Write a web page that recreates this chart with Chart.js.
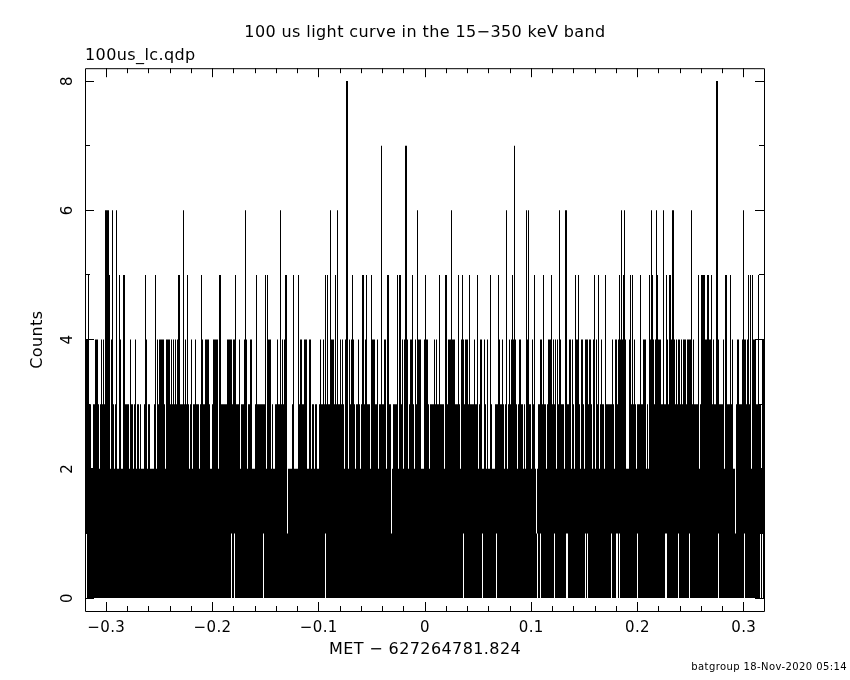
<!DOCTYPE html>
<html lang="en">
<head>
<meta charset="UTF-8">
<title>100 us light curve</title>
<script src="https://cdn.jsdelivr.net/npm/chart.js@4"></script>
<style>
    body { margin: 0; background: #fff; }
    canvas { display: block; }
</style>
</head>
<body>
<canvas id="myChart" width="850" height="680"></canvas>
<script>
// light curve rebinned to the 680 columns of the plot
// each list holds column numbers, [a, b] is a run of columns
var binCount = 680;
var timeStart = -0.32;
var timeEnd = 0.32;

var peak1 = [202, 306, 451, 650];
var peak2 = [[6,7],14,25,29,[32,33],[36,37],44,48,51,54,[56,58],62,[65,68],71,80,104,107,114,120,[125,126],133,155,162,[166,169],[180,181],184,186,[188,189],[202,206],[209,212],[222,223],226,229,[232,233],259,263,270,275,285,289,293,301,[306,307],313,318,323,329,[336,339],344,359,375,393,[397,399],401,[403,405],[407,409],419,422,432,438,440,446,[450,452],461,471,479,486,489,495,499,507,510,514,519,529,[541,543],551,561,563,614,639,[648,650],666,676];
var peak4 = [[0,3],[10,12],16,18,[20,24],[26,27],31,[34,35],[38,39],45,50,[60,61],70,72,[74,78],[81,84],86,88,90,[92,94],98,100,102,106,110,[116,117],[120,123],[128,132],[134,135],[142,146],[148,150],154,[159,161],[165,166],171,180,[182,185],192,195,197,[199,201],208,[215,216],[219,221],[224,225],235,238,240,242,[245,248],250,252,255,257,[260,262],264,[266,268],273,[277,278],[280,281],[286,289],292,[299,300],[302,303],312,[314,315],317,[319,322],[325,327],330,[332,335],[339,342],349,351,354,[360,361],[363,369],373,[376,378],[380,382],389,392,[395,396],399,402,405,[413,414],417,421,424,[426,430],[434,435],[441,443],447,449,[455,456],458,[463,466],468,470,472,[474,475],[480,481],[484,485],487,[490,493],[496,497],[500,502],[504,505],[508,509],511,513,516,527,[530,531],[533,540],[544,545],547,549,555,[558,560],[564,568],[570,575],[581,582],[584,589],591,[593,594],596,[598,600],[602,606],608,613,[616,626],628,[631,633],638,[640,641],647,[652,653],[657,660],662,[667,670],673,[677,679]];
var peak5 = [3,[20,24],27,31,34,[38,39],60,70,[93,94],98,102,116,[134,135],150,160,171,180,182,195,[200,201],208,213,240,242,245,250,252,[261,262],267,[277,278],281,286,296,[302,303],312,[314,315],[320,321],327,332,340,354,[360,361],366,373,377,384,392,405,413,421,427,429,441,443,449,458,466,474,[480,481],490,493,509,513,520,534,536,[538,539],545,547,555,564,[566,567],[571,572],578,581,[584,585],[587,588],606,613,[616,619],[622,623],626,[631,632],[640,641],645,658,663,665,667,673];
var peak6 = [[20,23],27,31,98,160,195,245,252,[261,262],296,[320,321],332,366,421,429,441,443,474,[480,481],536,539,566,571,578,[587,588],606,[631,632],658];
var peak7 = [[261,262],296,[320,321],429,[631,632]];
var peak8 = [[261,262],[631,632]];
// columns that never drop to zero counts
var floor1 = [1,146,149,178,240,378,397,411,452,455,469,[481,482],500,502,526,[531,532],534,552,[580,581],593,604,633,659,675,677];

var xLabels = [-0.3, -0.2, -0.1, 0, 0.1, 0.2, 0.3];
var xMinor = [-0.28,-0.26,-0.24,-0.22,-0.18,-0.16,-0.14,-0.12,-0.08,-0.06,-0.04,-0.02,0.02,0.04,0.06,0.08,0.12,0.14,0.16,0.18,0.22,0.24,0.26,0.28];
var yLabels = [0, 2, 4, 6, 8];
var yMinor = [1, 3, 5, 7];

var titleText = '100 us light curve in the 15\u2212350 keV band';
var fileText = '100us_lc.qdp';
var xTitle = 'MET \u2212 627264781.824';
var yTitle = 'Counts';
var stampText = 'batgroup 18-Nov-2020 05:14';

function fillColumns(target, list, value) {
    list.forEach(function (item) {
        var a = Array.isArray(item) ? item[0] : item;
        var b = Array.isArray(item) ? item[1] : item;
        for (var i = a; i <= b; i++) target[i] = value;
    });
}

var peaks = new Array(binCount).fill(3);
var floors = new Array(binCount).fill(0);
fillColumns(peaks, peak2, 2);
fillColumns(peaks, peak1, 1);
fillColumns(peaks, peak4, 4);
fillColumns(peaks, peak5, 5);
fillColumns(peaks, peak6, 6);
fillColumns(peaks, peak7, 7);
fillColumns(peaks, peak8, 8);
fillColumns(floors, floor1, 1);

var labels = [];
var bars = [];
for (var i = 0; i < binCount; i++) {
    labels.push((timeStart + (i + 0.5) * (timeEnd - timeStart) / binCount).toFixed(4));
    bars.push([floors[i], peaks[i]]);
}

// the frame and the inward ticks, qdp style
var framePlugin = {
    id: 'frame',
    beforeDraw: function (chart) {
        chart.ctx.letterSpacing = '0.4px';
    },
    afterDraw: function (chart) {
        var ctx = chart.ctx;
        var a = chart.chartArea;
        var xs = chart.scales.xBottom;
        var ys = chart.scales.y;
        ctx.save();
        ctx.strokeStyle = '#000';
        ctx.lineWidth = 1;
        ctx.beginPath();
        ctx.rect(a.left + 0.5, a.top + 0.5, a.right - a.left - 1, a.bottom - a.top);
        function xTick(v, len) {
            var p = Math.floor(xs.getPixelForValue(v)) + 0.5;
            ctx.moveTo(p, a.bottom);
            ctx.lineTo(p, a.bottom - len);
            ctx.moveTo(p, a.top);
            ctx.lineTo(p, a.top + len);
        }
        function yTick(v, len) {
            var p = Math.floor(ys.getPixelForValue(v)) + 0.5;
            ctx.moveTo(a.left, p);
            ctx.lineTo(a.left + len, p);
            ctx.moveTo(a.right - 1, p);
            ctx.lineTo(a.right - 1 - len, p);
        }
        xLabels.forEach(function (v) { xTick(v, 9); });
        xMinor.forEach(function (v) { xTick(v, 5); });
        yLabels.forEach(function (v) { yTick(v, 9); });
        yMinor.forEach(function (v) { yTick(v, 5); });
        ctx.stroke();
        ctx.restore();
    }
};

Chart.defaults.font.family = '"DejaVu Sans"';
Chart.defaults.color = '#000';

function fixHeight(h) { return function (scale) { scale.height = h; }; }
function fixWidth(w) { return function (scale) { scale.width = w; }; }

var ctx = document.getElementById('myChart').getContext('2d');
var myChart = new Chart(ctx, {
    type: 'bar',
    data: {
        labels: labels,
        datasets: [{
            label: 'Counts',
            data: bars,
            xAxisID: 'x',
            yAxisID: 'y',
            backgroundColor: '#000',
            borderWidth: 0,
            inflateAmount: 0,
            barPercentage: 1,
            categoryPercentage: 1
        }]
    },
    plugins: [framePlugin],
    options: {
        responsive: false,
        animation: false,
        layout: { padding: { left: 3, right: 3 } },
        plugins: {
            legend: { display: false },
            tooltip: { enabled: false },
            title: {
                display: true,
                text: titleText,
                font: { size: 16, weight: 'normal' },
                padding: { top: 23, bottom: 0 }
            },
            subtitle: {
                display: true,
                text: stampText,
                position: 'bottom',
                align: 'end',
                font: { size: 10, weight: 'normal' },
                padding: { top: 0, bottom: 7 }
            }
        },
        scales: {
            x: {
                type: 'category',
                display: false,
                offset: true,
                grid: { display: false }
            },
            xBottom: {
                type: 'linear',
                axis: 'x',
                position: 'bottom',
                offset: false,
                min: timeStart,
                max: timeEnd,
                afterFit: fixHeight(50),
                border: { display: false },
                grid: { display: false, drawTicks: false },
                ticks: {
                    stepSize: 0.1,
                    includeBounds: false,
                    autoSkip: false,
                    maxRotation: 0,
                    padding: 8,
                    font: { size: 15 },
                    callback: function (v) {
                        var r = Math.round(v * 10) / 10;
                        return r < 0 ? '\u2212' + Math.abs(r) : String(r);
                    }
                },
                title: {
                    display: true,
                    text: xTitle,
                    font: { size: 16 },
                    padding: { top: 0, bottom: 2 }
                }
            },
            xTop: {
                type: 'linear',
                axis: 'x',
                position: 'top',
                offset: false,
                min: timeStart,
                max: timeEnd,
                afterFit: fixHeight(26),
                border: { display: false },
                grid: { display: false, drawTicks: false },
                ticks: { display: false },
                title: {
                    display: true,
                    text: fileText,
                    align: 'start',
                    font: { size: 16 },
                    padding: { top: 4, bottom: 0 }
                }
            },
            y: {
                type: 'linear',
                position: 'left',
                min: -0.2,
                max: 8.2,
                afterFit: fixWidth(82),
                border: { display: false },
                grid: { display: false, drawTicks: false },
                ticks: {
                    stepSize: 2,
                    includeBounds: false,
                    autoSkip: false,
                    minRotation: 90,
                    maxRotation: 90,
                    crossAlign: 'center',
                    padding: 12,
                    font: { size: 15 },
                    callback: function (v) { return String(Math.round(v)); }
                },
                title: {
                    display: true,
                    text: yTitle,
                    font: { size: 16 },
                    padding: { top: 25, bottom: 0 }
                }
            },
            yRight: {
                type: 'linear',
                position: 'right',
                min: -0.2,
                max: 8.2,
                afterFit: fixWidth(82),
                border: { display: false },
                grid: { display: false, drawTicks: false },
                ticks: { display: false }
            }
        }
    }
});
</script>
</body>
</html>
